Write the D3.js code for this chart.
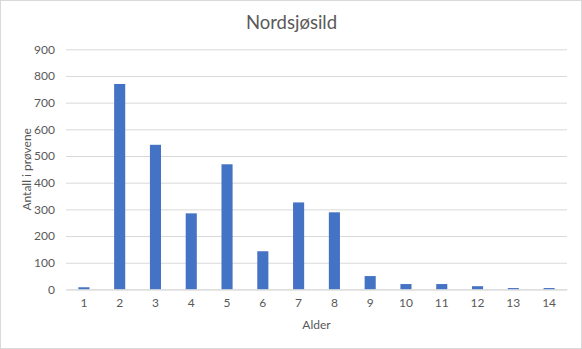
<!DOCTYPE html>
<html>
<head>
<meta charset="utf-8">
<script src="https://cdn.jsdelivr.net/npm/d3@7"></script>
<style>
  html, body { margin: 0; padding: 0; background: #fff; }
  svg { display: block; }
  text { font-family: Lato, "Open Sans", "Liberation Sans", sans-serif; fill: #595959; }
</style>
</head>
<body>
<svg id="chart" width="582" height="349"></svg>
<script>
const title = "Nordsjøsild";
const xTitle = "Alder";
const yTitle = "Antall i prøvene";
const categories = ["1","2","3","4","5","6","7","8","9","10","11","12","13","14"];
const values = [8, 770, 542, 285, 469, 143, 326, 289, 50, 20, 20, 12, 5, 5];
const yTicks = [0, 100, 200, 300, 400, 500, 600, 700, 800, 900];

const W = 582, H = 349;
const plot = { left: 66, right: 567, top: 49.3, bottom: 289.4 };

const svg = d3.select("#chart");

svg.append("rect")
  .attr("x", 0.5).attr("y", 0.5)
  .attr("width", W - 1).attr("height", H - 1)
  .attr("fill", "#fff").attr("stroke", "#d9d9d9");

const x = d3.scaleBand()
  .domain(categories)
  .range([plot.left, plot.right])
  .paddingInner(0.69)
  .paddingOuter(0.345);

const y = d3.scaleLinear()
  .domain([0, 900])
  .range([plot.bottom, plot.top]);

// gridlines
const yAxis = d3.axisLeft(y)
  .tickValues(yTicks)
  .tickSize(-(plot.right - plot.left))
  .tickPadding(11)
  .tickFormat(d3.format("d"));

const gy = svg.append("g")
  .attr("transform", `translate(${plot.left},0)`)
  .call(yAxis);
gy.select(".domain").remove();
gy.selectAll(".tick line").attr("stroke", "#d9d9d9").attr("stroke-width", 1);
gy.selectAll(".tick text")
  .attr("font-size", 12).attr("fill", "#595959")
  .style("font-family", "Lato, 'Open Sans', sans-serif");

// bars
svg.append("g").selectAll("rect")
  .data(values)
  .join("rect")
  .attr("x", (d, i) => x(categories[i]))
  .attr("width", x.bandwidth())
  .attr("y", d => y(d))
  .attr("height", d => y(0) - y(d))
  .attr("fill", "#4472C4");

// x axis
const xAxis = d3.axisBottom(x).tickSize(0).tickPadding(9);
const gx = svg.append("g")
  .attr("transform", `translate(0,${plot.bottom})`)
  .call(xAxis);
gx.select(".domain").attr("stroke", "#d9d9d9");
gx.selectAll(".tick text")
  .attr("font-size", 12).attr("fill", "#595959")
  .style("font-family", "Lato, 'Open Sans', sans-serif");

// titles
svg.append("text")
  .attr("x", (plot.left + plot.right) / 2 - 25)
  .attr("y", 29)
  .attr("text-anchor", "middle")
  .attr("font-size", 18.5)
  .text(title);

svg.append("text")
  .attr("x", (plot.left + plot.right) / 2)
  .attr("y", 329)
  .attr("text-anchor", "middle")
  .attr("font-size", 12)
  .text(xTitle);

svg.append("text")
  .attr("transform", `translate(31,${(plot.top + plot.bottom) / 2}) rotate(-90)`)
  .attr("text-anchor", "middle")
  .attr("font-size", 12)
  .text(yTitle);
</script>
</body>
</html>
